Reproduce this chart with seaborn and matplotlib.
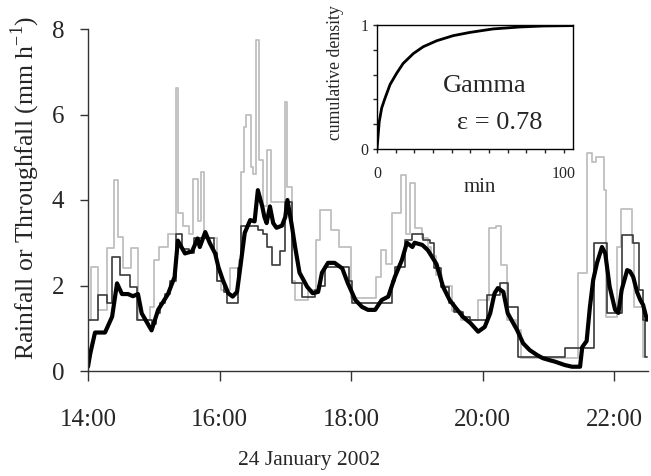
import numpy as np
import pandas as pd
import matplotlib
matplotlib.use("Agg")
import matplotlib.pyplot as plt
import seaborn as sns

# ==========================================
# DATA (minutes after 14:00, mm h-1)
# ==========================================
thick_t = [0, 2, 6.4, 15.5, 22, 26.5, 31, 36.5, 41, 45.6,
           49, 58, 64, 73, 79, 82, 88.5, 95, 100, 102,
           107, 111, 116, 119, 123, 128, 132, 136, 139, 143,
           148, 152, 155, 159, 161, 163, 166, 169, 172, 177,
           180, 182, 186, 189, 193, 200, 205, 210, 213.5, 219,
           225, 232, 237, 244, 250, 255.5, 262, 268, 274, 280,
           286.5, 291, 296, 298, 305, 310, 312, 318, 324, 330,
           337, 342, 349, 356, 362, 367, 371, 374, 379, 383,
           391.5, 397, 403, 410, 415, 421.6, 426, 435, 441.7, 449,
           451, 455, 458, 461, 464.5, 469, 472, 476, 481, 484,
           487, 492, 494.6, 497.5, 501, 504, 506.5, 510]
thick_v = [0.1, 0.4, 0.9, 0.9, 1.27, 2.05, 1.8, 1.8, 1.75, 1.8,
           1.35, 0.95, 1.43, 1.8, 2.2, 3.05, 2.75, 2.8, 3.1, 2.9,
           3.25, 3.0, 2.75, 2.43, 2.13, 1.82, 1.74, 1.85, 2.43, 3.23,
           3.53, 3.5, 4.23, 3.85, 3.6, 3.46, 3.85, 3.46, 3.35, 3.4,
           3.6, 4.0, 3.4, 2.9, 2.3, 1.97, 1.82, 1.85, 2.3, 2.53,
           2.53, 2.4, 2.06, 1.66, 1.5, 1.43, 1.43, 1.66, 1.74, 2.2,
           2.6, 3.0, 2.9, 3.0, 2.95, 2.83, 2.75, 2.5, 1.97, 1.66,
           1.43, 1.27, 1.12, 0.92, 1.03, 1.35, 1.82, 1.94, 1.85, 1.35,
           0.96, 0.65, 0.49, 0.37, 0.3, 0.25, 0.22, 0.14, 0.1, 0.1,
           0.56, 0.7, 1.5, 2.13, 2.53, 2.9, 2.75, 1.97, 1.43, 1.36,
           1.9, 2.36, 2.33, 2.2, 1.85, 1.66, 1.55, 1.2]

dark_t = [0, 9, 17, 22, 29, 38, 45, 58, 62, 66,
          70, 75, 80, 86, 92, 97, 115, 118, 124, 127,
          137, 140, 155, 160, 163, 168, 175, 180, 186, 195,
          207, 210, 216, 238, 241, 277, 280, 289, 296, 306,
          312, 316, 322, 329, 334, 342, 349, 364, 376, 383,
          392, 435, 462, 474, 487, 497, 503, 506, 508, 510]
dark_v = [1.2, 1.78, 1.6, 2.67, 2.25, 1.97, 1.2, 1.1, 1.35, 1.6,
          1.8, 2.1, 3.2, 2.85, 2.75, 3.1, 2.75, 2.1, 1.85, 1.58,
          2.4, 3.4, 3.3, 3.2, 2.9, 2.47, 2.8, 3.95, 2.05, 1.74,
          1.9, 2.0, 2.43, 2.1, 1.58, 2.1, 2.43, 3.07, 3.2, 3.07,
          3.0, 2.4, 1.97, 1.58, 1.38, 1.27, 1.2, 1.78, 2.05, 1.5,
          0.33, 0.54, 3.0, 1.36, 3.18, 3.0, 1.9, 1.2, 0.33, 0.33]

light_t = [0, 3, 9, 17, 24, 27, 32, 39, 46, 57,
           60, 65, 73, 80, 82, 87, 92, 96, 100, 103,
           106, 118, 121, 130, 138, 140, 142, 144, 149, 151,
           153.5, 156, 160, 163, 167, 179.5, 182, 186, 189, 201,
           208, 212, 222, 229, 240, 263, 267, 272, 277, 286,
           290, 294, 298, 305, 310, 313, 318, 323, 332, 340,
           356, 366, 372, 377, 382, 391, 395, 447, 455, 460,
           464, 471, 473, 483, 486, 496, 498, 506, 510]
light_v = [1.2, 2.43, 1.43, 2.88, 4.47, 3.13, 2.4, 2.88, 1.2, 1.5,
           2.6, 2.9, 3.2, 6.62, 3.7, 3.4, 3.2, 4.5, 3.5, 4.65,
           3.1, 2.1, 1.9, 2.4, 2.6, 4.65, 5.7, 6.0, 4.77, 4.6,
           7.74, 4.93, 3.85, 5.17, 3.95, 6.3, 4.3, 2.1, 1.66, 1.9,
           3.07, 3.77, 3.3, 2.9, 1.7, 2.2, 2.83, 2.5, 3.7, 4.58,
           3.2, 4.4, 3.35, 3.1, 2.9, 2.7, 2.25, 2.0, 1.4, 1.2,
           1.66, 3.35, 3.4, 2.47, 1.2, 0.95, 0.3, 2.3, 5.1, 4.9,
           5.0, 4.23, 1.27, 2.9, 3.8, 3.0, 1.5, 0.33, 0.33]

# inset: cumulative density of the fitted gamma (min)
cdf_min = [0, 1.2, 2.5, 4.3, 7, 10.5, 14, 19.5, 24.8, 32,
           40.8, 49.7, 62, 76.5, 89, 105]
cdf_val = [0, 0.22, 0.33, 0.41, 0.52, 0.61, 0.69, 0.77, 0.825, 0.873,
           0.914, 0.94, 0.968, 0.984, 0.992, 0.995]

hour_ticks = [14, 16, 18, 20, 22]
hour_labels = ["14:00", "16:00", "18:00", "20:00", "22:00"]
rain_ticks = [0, 2, 4, 6, 8]
in_yticks = [0, 0.2, 0.4, 0.6, 0.8, 1]
in_ylabels = ["0", "", "", "", "", "1"]
in_xticks = [0, 10, 20, 30, 40, 50, 60, 70, 80, 90, 100]
in_xlabels = ["0", "", "", "", "", "", "", "", "", "", "100"]


def to_frame(t, v):
    return pd.DataFrame({"hour": 14 + np.array(t) / 60.0, "rate": v})


# ==========================================
# PLOT
# ==========================================
sns.set_theme(style="ticks")
plt.rcParams["font.family"] = ["Liberation Serif", "DejaVu Serif"]
plt.rcParams["mathtext.fontset"] = "custom"
plt.rcParams["mathtext.rm"] = "Liberation Serif"

W, H = 651, 476
fig = plt.figure(figsize=(W / 100, H / 100), dpi=100)
ax = fig.add_axes([88 / W, 1 - 371 / H, 560 / W, 342 / H])

sns.lineplot(data=to_frame(light_t, light_v), x="hour", y="rate", ax=ax,
             estimator=None, sort=False, drawstyle="steps-post",
             color="#bfbfbf", lw=1.3)
sns.lineplot(data=to_frame(dark_t, dark_v), x="hour", y="rate", ax=ax,
             estimator=None, sort=False, drawstyle="steps-post",
             color="#3a3a3a", lw=1.2)
sns.lineplot(data=to_frame(thick_t, thick_v), x="hour", y="rate", ax=ax,
             estimator=None, sort=False, color="black", lw=3.0)

ax.set_xlim(14, 14 + 511 / 60)
ax.set_ylim(0, 8)
ax.set_xticks(hour_ticks)
ax.set_xticklabels(hour_labels)
ax.set_yticks(rain_ticks)
ax.set_xlabel("")
ax.set_ylabel("")
sns.despine(ax=ax)
for s in ["left", "bottom"]:
    ax.spines[s].set_color("#333333")
    ax.spines[s].set_linewidth(1.0)
ax.tick_params(axis="x", direction="out", length=7, width=1, color="#333333",
               labelsize=18, pad=20)
ax.tick_params(axis="y", direction="out", length=6, width=1, color="#333333",
               labelsize=18, pad=11)

fig.text(25 / W, 1 - 188 / H, "Rainfall or Throughfall (mm h$^{\\mathregular{-1}}$)",
         rotation=90, ha="center", va="center", fontsize=18.5)
fig.text(309 / W, 1 - 460 / H, "24 January 2002", ha="center", va="center",
         fontsize=15.5)

# inset
ax_in = fig.add_axes([377 / W, 1 - 149 / H, 196 / W, 124 / H])
sns.lineplot(x=cdf_min, y=cdf_val, ax=ax_in, estimator=None, sort=False,
             color="black", lw=2.0)
ax_in.set_xlim(0, 105)
ax_in.set_ylim(0, 1)
ax_in.set_xticks(in_xticks)
ax_in.set_xticklabels(in_xlabels)
ax_in.set_yticks(in_yticks)
ax_in.set_yticklabels(in_ylabels)
for s in ax_in.spines.values():
    s.set_color("black")
    s.set_linewidth(1.0)
ax_in.tick_params(axis="x", direction="out", length=3, width=1, labelsize=11.5, pad=9)
ax_in.tick_params(axis="y", direction="out", length=3, width=1, labelsize=11.5, pad=3)

fig.text(336 / W, 1 - 73 / H, "cumulative density", rotation=90,
         ha="center", va="center", fontsize=12.8)
fig.text(480 / W, 1 - 188 / H, "min", ha="center", va="center", fontsize=15)
fig.text(485 / W, 1 - 86 / H, "Gamma", ha="center", va="center", fontsize=19)
fig.text(500 / W, 1 - 123 / H, "\u03b5 = 0.78", ha="center", va="center", fontsize=19)

fig.savefig("out.png", dpi=100)
